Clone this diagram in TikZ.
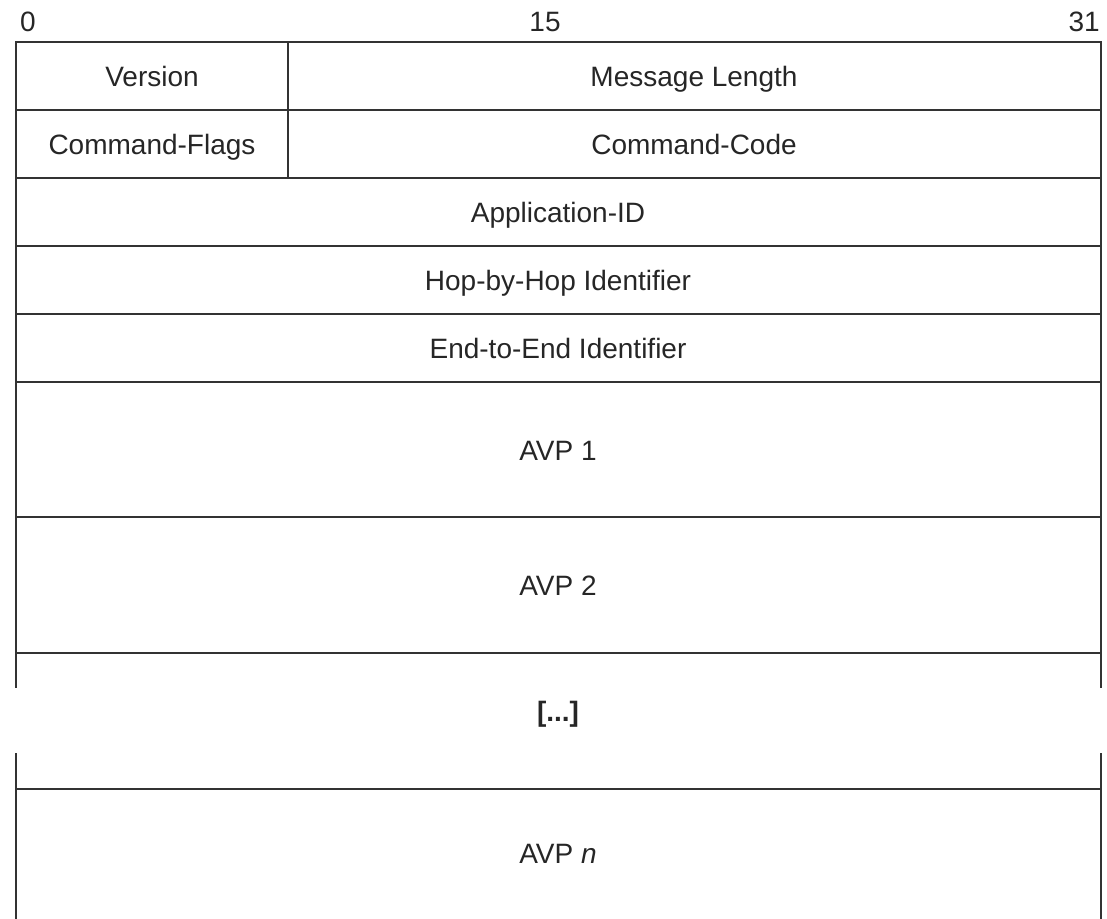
\documentclass[tikz,border=0pt]{standalone}
\usepackage{fontspec}
\setmainfont{Liberation Sans}
\begin{document}
\begin{tikzpicture}[x=1pt,y=-1pt,
  frame/.style={line width=2pt, draw=black!80, line cap=rect},
  field/.style={font=\fontsize{28}{32}\selectfont, text=black!85, inner sep=0pt, anchor=base},
  bitlbl/.style={font=\fontsize{28}{32}\selectfont, text=black!85, inner sep=0pt}]
\useasboundingbox (0,0) rectangle (1107,918);
% bit labels
\node[bitlbl, anchor=base west] (b0) at (20,31) {0};
\node[bitlbl, anchor=base] (b15) at (545,31) {15};
\node[bitlbl, anchor=base east] (b31) at (1100,31) {31};
% outline and rows
\draw[frame] (15.5,687) -- (15.5,42) -- (1100.5,42) -- (1100.5,687);
\draw[frame] (15.5,918) -- (15.5,754);
\draw[frame] (1100.5,918) -- (1100.5,754);
\foreach \y in {110,177.5,246,314,382,517,652.5,788.5}
  \draw[frame] (15.5,\y) -- (1100.5,\y);
\draw[frame] (288,42) -- (288,177.5);
% fields (positioned by baseline)
\node[field] (ver) at (152,86) {Version};
\node[field] (len) at (694,86) {Message Length};
\node[field] (flags) at (152,154) {Command-Flags};
\node[field] (code) at (694,154) {Command-Code};
\node[field] (app) at (558,222) {Application-ID};
\node[field] (hbh) at (558,290) {Hop-by-Hop Identifier};
\node[field] (e2e) at (558,358) {End-to-End Identifier};
\node[field] (avp1) at (558,460) {AVP 1};
\node[field] (avp2) at (558,595) {AVP 2};
\node[field, font=\fontsize{28}{32}\selectfont\bfseries] (dots) at (558,721) {[...]};
\node[field] (avpn) at (558,863) {AVP \textit{n}};
\end{tikzpicture}
\end{document}
